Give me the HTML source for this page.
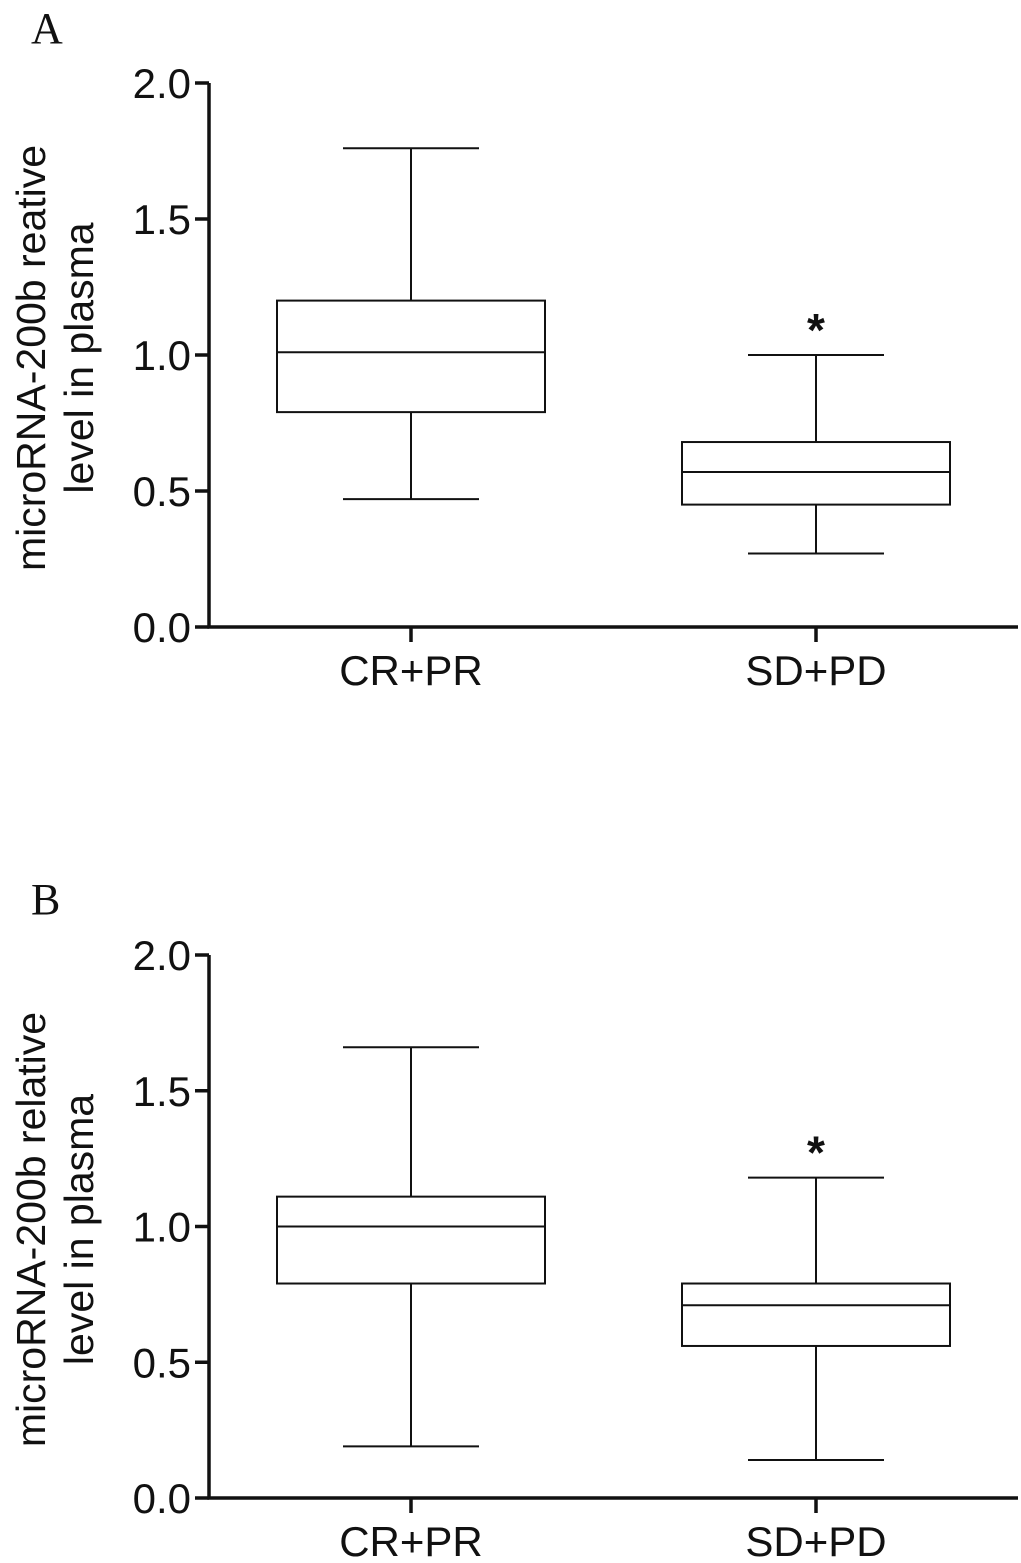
<!DOCTYPE html>
<html><head><meta charset="utf-8"><style>
body{margin:0;background:#fff}
svg text{font-family:"Liberation Sans",sans-serif;fill:#111}
</style></head><body>
<svg id="chart" width="1021" height="1558" viewBox="0 0 1021 1558" xmlns="http://www.w3.org/2000/svg"></svg>
<script>
const categories = ["CR+PR","SD+PD"];
const ticks = [0.0,0.5,1.0,1.5,2.0];
const tickLabels = ["0.0","0.5","1.0","1.5","2.0"];
const panelA_min = [0.47,0.27];
const panelA_q1 = [0.79,0.45];
const panelA_med = [1.01,0.57];
const panelA_q3 = [1.20,0.68];
const panelA_max = [1.76,1.00];
const panelB_min = [0.19,0.14];
const panelB_q1 = [0.79,0.56];
const panelB_med = [1.00,0.71];
const panelB_q3 = [1.11,0.79];
const panelB_max = [1.66,1.18];
const panelLetters = ["A","B"];
const yTitles = [["microRNA-200b reative","level in plasma"],["microRNA-200b relative","level in plasma"]];

const svg = document.getElementById('chart');
const NS = 'http://www.w3.org/2000/svg';
function mk(tag, attrs, parent){const e=document.createElementNS(NS,tag);for(const k in attrs)e.setAttribute(k,attrs[k]);(parent||svg).appendChild(e);return e;}

function drawPanel(idx, y0, y2, mins, q1s, meds, q3s, maxs){
  const g = mk('g',{});
  
  
  const xL=209, xR=1018;
  const yS = v => y0 + (y2-y0)*v/2;
  const xS = i => 411 + i*405;
  const lt = mk('text',{x:31,y:y0-627+43,'font-size':44},g);
  lt.style.fontFamily='"Liberation Serif",serif';
  lt.textContent=panelLetters[idx];
  
  
  const ax = mk('path',{d:`M${xL} ${y2} V${y0} H${xR}`,stroke:'#111','stroke-width':3.5,fill:'none'},g);
  
  
  ticks.forEach((t,i)=>{
    const y=yS(t);
    mk('line',{x1:xL-14,x2:xL,y1:y,y2:y,stroke:'#111','stroke-width':3.5},g);
    const tx=mk('text',{x:xL-18,y:y+15,'font-size':42,'text-anchor':'end'},g);
    tx.textContent=tickLabels[i];
    
    
  });
  const yt = mk('text',{transform:`translate(0 ${(y0+y2)/2+3}) rotate(-90)`,'font-size':41,'text-anchor':'middle'},g);
  
  
  yTitles[idx].forEach((s,i)=>{const ts=mk('tspan',{x:0,y:i===0?45:93},yt);ts.textContent=s;});
  categories.forEach((c,i)=>{
    const x=xS(i), bw=134, cw=68;
    mk('line',{x1:x,x2:x,y1:y0,y2:y0+15,stroke:'#111','stroke-width':3.5},g);
    const cl=mk('text',{x:x,y:y0+58,'font-size':42,'text-anchor':'middle'},g);
    cl.textContent=c;
    
    
    const bg=mk('g',{stroke:'#111','stroke-width':2,fill:'none'},g);
    
    
    mk('line',{x1:x,x2:x,y1:yS(maxs[i]),y2:yS(q3s[i])},bg);
    mk('line',{x1:x,x2:x,y1:yS(q1s[i]),y2:yS(mins[i])},bg);
    mk('line',{x1:x-cw,x2:x+cw,y1:yS(maxs[i]),y2:yS(maxs[i])},bg);
    mk('line',{x1:x-cw,x2:x+cw,y1:yS(mins[i]),y2:yS(mins[i])},bg);
    mk('rect',{x:x-bw,y:yS(q3s[i]),width:2*bw,height:yS(q1s[i])-yS(q3s[i])},bg);
    mk('line',{x1:x-bw,x2:x+bw,y1:yS(meds[i]),y2:yS(meds[i])},bg);
  });
  const st=mk('text',{x:xS(1),y:yS(maxs[1])+(y2-y0)*0.05+18,'font-size':46,'font-weight':'bold','text-anchor':'middle'},g);
  st.textContent='*';
  
  
}
drawPanel(0,627,83,panelA_min,panelA_q1,panelA_med,panelA_q3,panelA_max);
drawPanel(1,1498,955,panelB_min,panelB_q1,panelB_med,panelB_q3,panelB_max);
</script>
</body></html>
